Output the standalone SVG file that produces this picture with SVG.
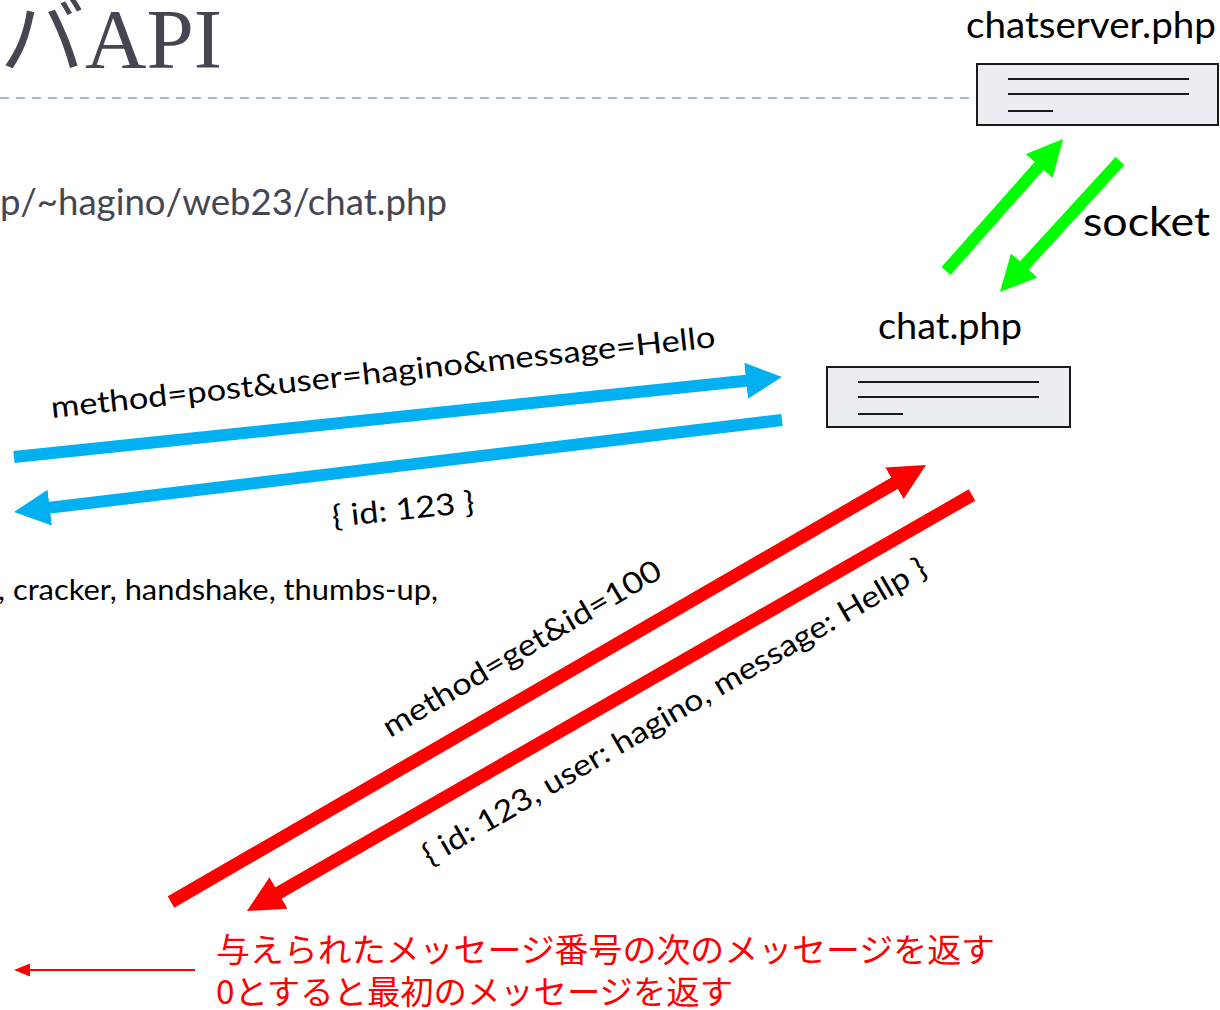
<svg xmlns="http://www.w3.org/2000/svg" width="1220" height="1010" viewBox="0 0 1220 1010">
<style>
.g{font-family:Lato,"Open Sans","Noto Sans CJK JP",sans-serif;}
.dark{fill:#464653;}
.blk{fill:#000;}
.box{fill:#eaeef3;stroke:#1a1a1a;stroke-width:2;}
.ln{stroke:#1a1a1a;stroke-width:2;}
.blue{stroke:#00b0f0;stroke-width:12;fill:none;}
.green{stroke:#00ff00;stroke-width:12;fill:none;}
.red{stroke:#ff0000;stroke-width:13;fill:none;}
.jp{font-family:"Noto Sans CJK JP",sans-serif;fill:#ff0000;font-size:33px;}
</style>
<defs>
<marker id="hb" viewBox="0 0 3 3" refX="1" refY="1.5" markerWidth="3" markerHeight="3" orient="auto" markerUnits="strokeWidth"><path d="M0,0 L3,1.5 L0,3 z" fill="#00b0f0"/></marker>
<marker id="hg" viewBox="0 0 3 3" refX="1" refY="1.5" markerWidth="3" markerHeight="3" orient="auto" markerUnits="strokeWidth"><path d="M0,0 L3,1.5 L0,3 z" fill="#00ff00"/></marker>
<marker id="hr" viewBox="0 0 2.8 2.8" refX="0.8" refY="1.4" markerWidth="2.8" markerHeight="2.8" orient="auto" markerUnits="strokeWidth"><path d="M0,0 L2.8,1.4 L0,2.8 z" fill="#ff0000"/></marker>
<marker id="hs" viewBox="0 0 8 6.5" refX="1" refY="3.25" markerWidth="8" markerHeight="6.5" orient="auto" markerUnits="strokeWidth"><path d="M0,0 L8,3.25 L0,6.5 z" fill="#ff0000"/></marker>
</defs>
<rect width="1220" height="1010" fill="#fff"/>

<g id="title">
<text x="222" y="68" text-anchor="end" font-family="'Liberation Serif','Noto Sans CJK JP',serif" font-size="85" class="dark">バAPI</text>
<line x1="0" y1="98" x2="977" y2="98" stroke="#a5bccd" stroke-width="2" stroke-dasharray="9 7"/>
</g>
<g id="url"><text x="0" y="215" class="g dark" font-size="36" textLength="447" lengthAdjust="spacingAndGlyphs">p/~hagino/web23/chat.php</text></g>
<g id="list"><text x="-2" y="600" class="g blk" font-size="28" textLength="440" lengthAdjust="spacingAndGlyphs">, cracker, handshake, thumbs-up,</text></g>

<g id="chatserver">
<text x="966" y="38" class="g blk" font-size="36" textLength="250" lengthAdjust="spacingAndGlyphs">chatserver.php</text>
<rect class="box" x="977" y="64" width="241" height="61"/>
<line class="ln" x1="1008" y1="79" x2="1189" y2="79"/>
<line class="ln" x1="1008" y1="94" x2="1189" y2="94"/>
<line class="ln" x1="1008" y1="111" x2="1053" y2="111"/>
</g>
<g id="chat">
<text x="878" y="339" class="g blk" font-size="36" textLength="144" lengthAdjust="spacingAndGlyphs">chat.php</text>
<rect class="box" x="827" y="367" width="243" height="60"/>
<line class="ln" x1="858" y1="382" x2="1039" y2="382"/>
<line class="ln" x1="858" y1="397" x2="1039" y2="397"/>
<line class="ln" x1="858" y1="414" x2="903" y2="414"/>
</g>

<g id="connectors">
<line class="green" x1="946" y1="271" x2="1047.1" y2="157" marker-end="url(#hg)"/>
<line class="green" x1="1120" y1="161" x2="1016.2" y2="274.3" marker-end="url(#hg)"/>
<line class="blue" x1="14" y1="457" x2="758.1" y2="379.5" marker-end="url(#hb)"/>
<line class="blue" x1="782" y1="420" x2="37.8" y2="509.1" marker-end="url(#hb)"/>
<line class="red" x1="171" y1="902" x2="903.5" y2="478" marker-end="url(#hr)"/>
<line class="red" x1="972" y1="495" x2="269.5" y2="898.1" marker-end="url(#hr)"/>
<line x1="195" y1="970" x2="28" y2="970" stroke="#ff0000" stroke-width="2" marker-end="url(#hs)"/>
</g>

<g id="labels">
<text x="1083" y="236" class="g blk" font-size="40" textLength="127" lengthAdjust="spacingAndGlyphs">socket</text>
<text x="52" y="418" transform="rotate(-6.1 52 418)" class="g blk" font-size="30" textLength="668" lengthAdjust="spacingAndGlyphs">method=post&amp;user=hagino&amp;message=Hello</text>
<text x="333" y="527" transform="rotate(-6 333 527)" class="g blk" font-size="30" textLength="143" lengthAdjust="spacingAndGlyphs">{ id: 123 }</text>
<text x="390" y="738" transform="rotate(-30.5 390 738)" class="g blk" font-size="30" textLength="318" lengthAdjust="spacingAndGlyphs">method=get&amp;id=100</text>
<text x="430" y="866" transform="rotate(-30.3 430 866)" class="g blk" font-size="30" textLength="578" lengthAdjust="spacingAndGlyphs">{ id: 123, user: hagino, message: Hellp }</text>
</g>

<g id="note">
<text x="216" y="962" class="jp" textLength="779" lengthAdjust="spacingAndGlyphs">与えられたメッセージ番号の次のメッセージを返す</text>
<text x="216" y="1004" class="jp" textLength="517" lengthAdjust="spacingAndGlyphs">0とすると最初のメッセージを返す</text>
</g>
</svg>
